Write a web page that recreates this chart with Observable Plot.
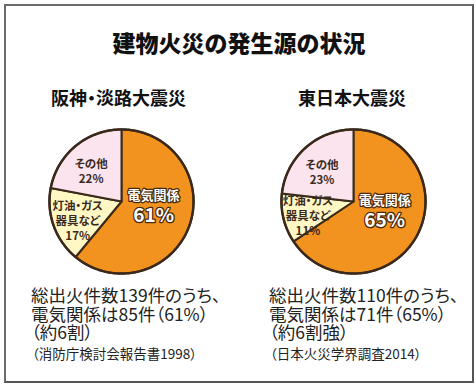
<!DOCTYPE html>
<html><head><meta charset="utf-8">
<script src="https://cdn.jsdelivr.net/npm/d3@7"></script>
<script src="https://cdn.jsdelivr.net/npm/@observablehq/plot@0.6"></script>
<style>
body{margin:0;background:#fff;}
#wrap{position:relative;width:476px;height:386px;font-family:"Noto Sans CJK JP",sans-serif;color:#1a1a1a;overflow:hidden;background:#fff}
#frame{position:absolute;left:4px;top:4px;width:466px;height:375px;border:2px solid #555;border-left-color:#6a6a6a;border-top-color:#6a6a6a;}
.t{position:absolute;white-space:pre;}
#title{left:0;width:478px;top:31px;text-align:center;font-size:23px;line-height:23px;font-weight:900;color:#111;}
.sub{top:88px;width:200px;text-align:center;font-size:18px;line-height:18px;font-weight:700;color:#111;font-feature-settings:"palt";}
.note{top:286px;font-size:17.5px;line-height:18.5px;color:#222;font-feature-settings:"palt";}
.src{top:346px;font-size:13.5px;line-height:14px;color:#222;font-feature-settings:"palt";}
.pie{position:absolute;top:124.5px;}
</style></head>
<body><div id="wrap"><div id="frame"></div></div>
<script>
const title = "建物火災の発生源の状況";
const pieTitles = ["阪神・淡路大震災", "東日本大震災"];
const categories = ["電気関係", "灯油・ガス\n器具など", "その他"];
const hanshinValues = [61, 17, 22];
const higashiValues = [65, 11, 23];
const sliceColors = ["#f3931f", "#fff7c4", "#fbe4ee"];
const notes1 = ["総出火件数139件のうち、", "電気関係は85件（61%）", "（約6割）"];
const notes2 = ["総出火件数110件のうち、", "電気関係は71件（65%）", "（約6割強）"];
const sources = ["（消防庁検討会報告書1998）", "（日本火災学界調査2014）"];

const wrap = document.getElementById("wrap");
function addText(cls, text, style) {
  const d = document.createElement("div");
  d.className = "t " + cls;
  d.textContent = text;
  Object.assign(d.style, style || {});
  wrap.appendChild(d);
  return d;
}
addText("", title).id = "title";
addText("sub", pieTitles[0], {left: "18.5px"});
addText("sub", pieTitles[1], {left: "252px"});
addText("note", notes1.join("\n"), {left: "31px"});
addText("note", notes2.join("\n"), {left: "269px"});
addText("src", sources[0], {left: "32px"});
addText("src", sources[1], {left: "270px"});

const angleShift = [-12, -3, -5];   // degrees, label placement
const labelRadius = [0.45, 0.66, 0.6];
const outline = "#3b2a1c";

function pieChart(values) {
  const arcs = d3.pie().sort(null)(values);
  const pts = [];
  arcs.forEach((a, i) => {
    const base = {k: i, c: sliceColors[i]};
    pts.push({...base, x: 0, y: 0});
    const n = Math.max(2, Math.ceil((a.endAngle - a.startAngle) / 0.02));
    for (let j = 0; j <= n; j++) {
      const t = a.startAngle + (a.endAngle - a.startAngle) * j / n;
      pts.push({...base, x: Math.sin(t), y: Math.cos(t)});
    }
    pts.push({...base, x: 0, y: 0});
  });
  const ring = d3.range(0, 181).map(j => ({x: Math.sin(j / 180 * 2 * Math.PI), y: Math.cos(j / 180 * 2 * Math.PI)}));
  const labels = arcs.map((a, i) => {
    const m = (a.startAngle + a.endAngle) / 2 + angleShift[i] * Math.PI / 180;
    const r = labelRadius[i];
    return {x: r * Math.sin(m), y: r * Math.cos(m), name: categories[i], pct: values[i] + "%"};
  });
  const D = 1.055;
  return Plot.plot({
    width: 152, height: 152, margin: 0,
    style: {fontFeatureSettings: '"palt"', background: "transparent", overflow: "visible"},
    x: {domain: [-D, D], axis: null},
    y: {domain: [-D, D], axis: null},
    marks: [
      Plot.line(pts, {x: "x", y: "y", z: "k", fill: "c", stroke: outline, strokeWidth: 2, strokeLinejoin: "round"}),
      Plot.line(ring, {x: "x", y: "y", stroke: outline, strokeWidth: 2.5}),
      Plot.text(labels.slice(0, 1), {x: "x", y: "y", text: "name", dy: -10, fontSize: 13, fontWeight: 700, fill: "white", stroke: "#4a2a0e", strokeWidth: 2.5, paintOrder: "stroke", fontFamily: "Noto Sans CJK JP"}),
      Plot.text(labels.slice(0, 1), {x: "x", y: "y", text: "pct", dy: 10, fontSize: 19, fontWeight: 700, fill: "white", stroke: "#4a2a0e", strokeWidth: 2.5, paintOrder: "stroke", fontFamily: "Noto Sans CJK JP"}),
      Plot.text(labels.slice(1), {x: "x", y: "y", text: d => d.name + "\n" + d.pct, lineHeight: 1.3, fontSize: 11.5, fontWeight: 700, fill: "#3a2a1e", fontFamily: "Noto Sans CJK JP"})
    ]
  });
}
const p1 = pieChart(hanshinValues);
p1.classList.add("pie"); p1.style.left = "44.5px";
const p2 = pieChart(higashiValues);
p2.classList.add("pie"); p2.style.left = "276.5px";
wrap.appendChild(p1);
wrap.appendChild(p2);
</script></body></html>
